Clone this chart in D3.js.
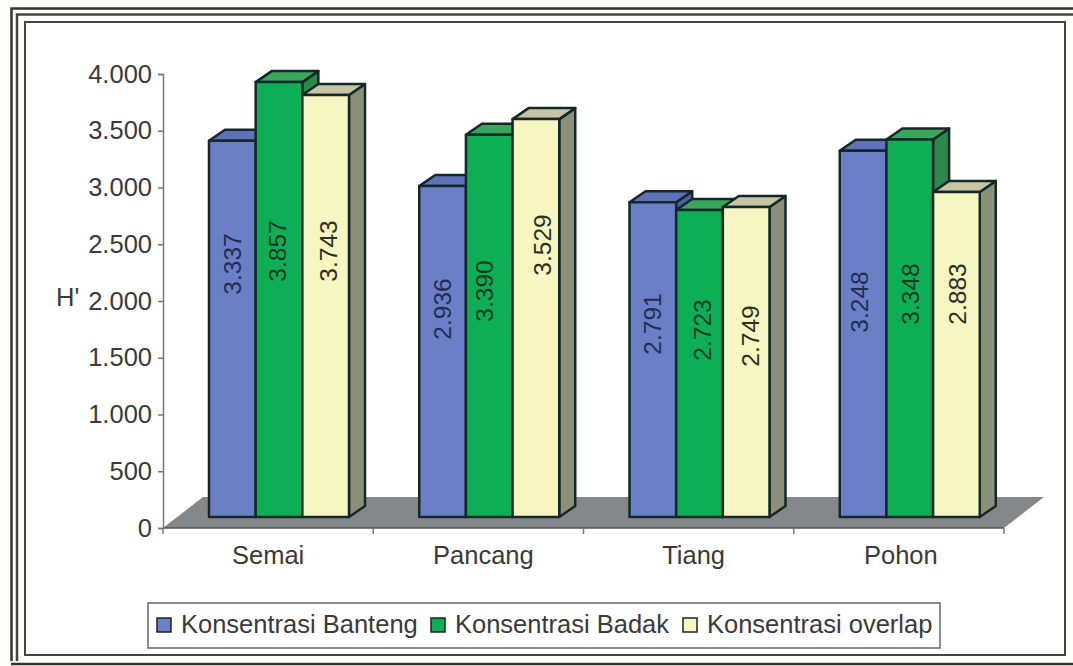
<!DOCTYPE html>
<html>
<head>
<meta charset="utf-8">
<script src="https://cdnjs.cloudflare.com/ajax/libs/d3/7.8.5/d3.min.js"></script>
<style>
  html, body { margin: 0; padding: 0; background: #fdfdfb; }
  svg { display: block; }
  text { font-family: "Liberation Sans", Arial, sans-serif; fill: #3a3a3a; }
</style>
</head>
<body>
<svg id="chart" width="1073" height="666"></svg>
<script>
// Diversity index H' per growth stage and concentration area
const categories = ["Semai", "Pancang", "Tiang", "Pohon"];
const seriesNames = ["Konsentrasi Banteng", "Konsentrasi Badak", "Konsentrasi overlap"];
const banteng = [3337, 2936, 2791, 3248];
const badak = [3857, 3390, 2723, 3348];
const overlap = [3743, 3529, 2749, 2883];
const yTicks = [0, 500, 1000, 1500, 2000, 2500, 3000, 3500, 4000];

// Vertical centre of each rotated value label, one row per series
const labelCentresBanteng = [264, 309, 324, 302];
const labelCentresBadak = [251, 291, 330, 294];
const labelCentresOverlap = [251, 245, 336, 294];
// Sideways nudge of each value label away from its bar's centre
const labelNudgeBanteng = [0, 0, 0, -4];
const labelNudgeBadak = [-2, -5, 3, 1];
const labelNudgeOverlap = [3, 7, 4, 1];
// Sideways nudge of each category label away from its band's centre
const categoryNudge = [0, 5, 5, 2];

const seriesValues = [banteng, badak, overlap];
const labelCentres = [labelCentresBanteng, labelCentresBadak, labelCentresOverlap];
const labelNudges = [labelNudgeBanteng, labelNudgeBadak, labelNudgeOverlap];
const palette = [
  { front: "#6b7fc6", top: "#5f71b8", side: "#4f60a0", label: "#1f2d55" },
  { front: "#0dae55", top: "#3aa65e", side: "#2b8a4a", label: "#0d3b22" },
  { front: "#f6f6c2", top: "#c6c6a4", side: "#8d9079", label: "#2e2e22" }
];

const svg = d3.select("#chart");
const locale = d3.formatLocale({ decimal: ",", thousands: ".", grouping: [3], currency: ["", ""] });
const fmt = locale.format(",d");

const axisLeft = 163, axisRight = 1004;
const axisBase = 528, axisTop = 74;
const floorDx = 40, floorDy = 31;
const barDx = 16, barDy = 11;
const fontSize = 25.5;

// Axis scale sits on the front of the floor; bars stand mid-depth on it
const y = d3.scaleLinear().domain([0, 4000]).range([axisBase, axisTop]);
const yBar = d3.scaleLinear().domain([0, 4000]).range([517, 66]);
const x0 = d3.scaleBand().domain(categories).range([axisLeft, axisRight]);
const x1 = d3.scaleBand().domain(seriesNames).range([46, 186]);

// Nested page frame
const frame = svg.append("g").attr("fill", "none");
frame.append("rect").attr("x", 11.5).attr("y", 8.5).attr("width", 1100).attr("height", 656)
  .attr("stroke", "#333").attr("stroke-width", 2.5);
frame.append("rect").attr("x", 17).attr("y", 14.5).attr("width", 1100).attr("height", 700)
  .attr("stroke", "#444").attr("stroke-width", 2.5);
frame.append("rect").attr("x", 25).attr("y", 22).attr("width", 1040).attr("height", 633)
  .attr("stroke", "#444").attr("stroke-width", 2).attr("fill", "#fff");
svg.append("rect").attr("x", 0).attr("y", 661).attr("width", 1073).attr("height", 5).attr("fill", "#fdfdfb");
svg.append("line").attr("x1", 11).attr("x2", 1073).attr("y1", 664).attr("y2", 664)
  .attr("stroke", "#333").attr("stroke-width", 2.5);

// Floor
svg.append("polygon")
  .attr("points", [
    [axisLeft, axisBase],
    [axisLeft + floorDx, axisBase - floorDy],
    [axisRight + floorDx, axisBase - floorDy],
    [axisRight, axisBase]
  ].join(" "))
  .attr("fill", "#85888a");
svg.append("line").attr("x1", axisLeft).attr("x2", axisRight).attr("y1", axisBase).attr("y2", axisBase)
  .attr("stroke", "#555").attr("stroke-width", 1.5);

// Value axis
const gy = svg.append("g").attr("transform", `translate(${axisLeft},0)`)
  .call(d3.axisLeft(y).tickValues(yTicks).tickFormat(fmt).tickSize(5).tickPadding(6));
gy.selectAll("path, line").attr("stroke", "#777").attr("stroke-width", 1.5);
gy.selectAll("text").attr("font-size", fontSize).attr("font-family", "'Liberation Sans', Arial, sans-serif").attr("fill", "#3a3a3a");

// Category axis
const catTicks = x0.domain().map(d => x0(d)).concat(axisRight);
svg.append("g").selectAll("line").data(catTicks).join("line")
  .attr("x1", d => d).attr("x2", d => d).attr("y1", axisBase).attr("y2", axisBase + 6)
  .attr("stroke", "#777").attr("stroke-width", 1.5);
svg.append("g").selectAll("text").data(categories).join("text")
  .attr("x", (d, i) => x0(d) + x0.bandwidth() / 2 + categoryNudge[i])
  .attr("y", 564)
  .attr("text-anchor", "middle").attr("font-size", fontSize)
  .text(d => d);

svg.append("text").attr("x", 56).attr("y", 306).attr("font-size", fontSize).text("H'");

// Bars, drawn left to right so each one overlaps its neighbour's side
const barStroke = { stroke: "#14282a", width: 2.5 };
categories.forEach((cat, c) => {
  seriesNames.forEach((name, s) => {
    const v = seriesValues[s][c];
    const left = x0(cat) + x1(name);
    const right = left + x1.bandwidth();
    const top = yBar(v), base = yBar(0);
    const g = svg.append("g")
      .attr("stroke", barStroke.stroke).attr("stroke-width", barStroke.width).attr("stroke-linejoin", "round");
    g.append("polygon").attr("fill", palette[s].side).attr("points", [
      [right, top], [right + barDx, top - barDy], [right + barDx, base - barDy], [right, base]
    ].join(" "));
    g.append("polygon").attr("fill", palette[s].top).attr("points", [
      [left, top], [left + barDx, top - barDy], [right + barDx, top - barDy], [right, top]
    ].join(" "));
    g.append("rect").attr("fill", palette[s].front)
      .attr("x", left).attr("y", top).attr("width", right - left).attr("height", base - top);
  });
});

// Rotated value labels go on top of all the bars
categories.forEach((cat, c) => {
  seriesNames.forEach((name, s) => {
    const cx = x0(cat) + x1(name) + x1.bandwidth() / 2 + labelNudges[s][c];
    const cy = labelCentres[s][c];
    svg.append("text")
      .attr("transform", `translate(${cx},${cy}) rotate(-90)`)
      .attr("text-anchor", "middle").attr("dy", "0.35em")
      .attr("font-size", 24.5)
      .style("fill", palette[s].label)
      .text(fmt(seriesValues[s][c]));
  });
});

// Legend
const legend = svg.append("g");
legend.append("rect").attr("x", 148).attr("y", 603).attr("width", 792).attr("height", 45)
  .attr("fill", "#fff").attr("stroke", "#666").attr("stroke-width", 1.5);
const legendX = d3.scaleOrdinal().domain(seriesNames).range([157, 431, 683]);
seriesNames.forEach((name, s) => {
  legend.append("rect").attr("x", legendX(name)).attr("y", 618).attr("width", 14).attr("height", 14)
    .attr("fill", palette[s].front).attr("stroke", "#222").attr("stroke-width", 1.5);
  legend.append("text").attr("x", legendX(name) + 24).attr("y", 633).attr("font-size", fontSize).text(name);
});
</script>
</body>
</html>
